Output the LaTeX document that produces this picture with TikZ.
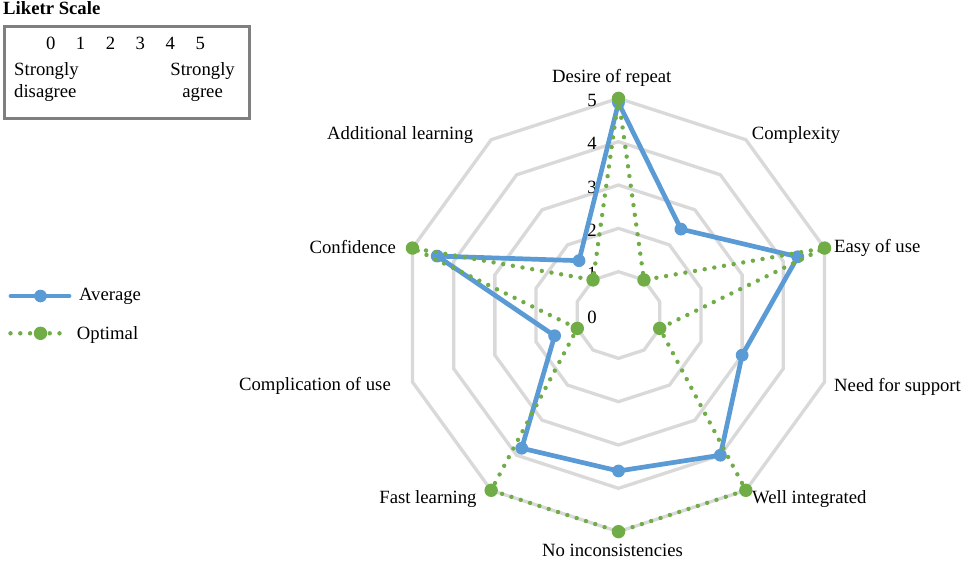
\documentclass[tikz,border=0pt]{standalone}
\usepackage{fontspec}
\setmainfont{Liberation Serif}
\usetikzlibrary{positioning}
\definecolor{avgblue}{HTML}{5B9BD5}
\definecolor{optgreen}{HTML}{70AD47}
\definecolor{ringgray}{HTML}{D9D9D9}
\definecolor{boxgray}{HTML}{7F7F7F}
\tikzset{
  ring/.style={draw=ringgray, line width=3.3pt},
  avgline/.style={draw=avgblue, line width=4.7pt, line join=round, line cap=round},
  optline/.style={draw=optgreen, line width=4.4pt, line cap=round, dash pattern=on 0pt off 9.8pt},
  lbl/.style={inner sep=0pt, font=\fontsize{18.7}{21.7}\selectfont},
}

\begin{document}
\begin{tikzpicture}[x=1pt, y=-1pt]
    \useasboundingbox[fill=white] (0,0) rectangle (964,563);

    % Likert scale box
    \node[lbl, anchor=west] (title) at (3,8.5) {\bfseries Liketr Scale};
    \node[draw=boxgray, line width=3pt, anchor=north west, inner sep=0pt, minimum width=244.7pt, minimum height=92pt] (scalebox) at (3.3,25) {};
    \foreach \n in {0,...,5}
        \node[lbl] (num-\n) at (50.7+\n*29.9, 43.8) {\n};
    \node[lbl, anchor=west, align=left] (disagree) at (14,81.7) {Strongly\\disagree};
    \node[lbl, align=center] (agree) at (202.6,81.7) {Strongly\\agree};

    % legend
    \draw[avgline] (11,296) -- ++(58,0) node[lbl, right=7.7pt] (avgkey) {Average};
    \fill[avgblue] (40.5,296) circle (6.3pt);
    \draw[optline] (10.5,333.3) -- ++(53,0) coordinate (optend);
    \node[lbl, anchor=west] (optkey) at (76.7,334.7) {Optimal};
    \fill[optgreen] (40.5,333.3) circle (6.7pt);

    % axis labels
    \foreach \txt/\anc/\px/\py [count=\i from 0] in {
        Desire of repeat/center/611.7/78, Complexity/west/751.7/135,
        Easy of use/west/834/248, Need for support/west/834/386.5,
        Well integrated/west/752/499, No inconsistencies/center/612.5/550.5,
        Fast learning/east/476.7/499, Complication of use/east/391/386,
        Confidence/east/396/246.7, Additional learning/east/473.3/135}
        \node[lbl, anchor=\anc] (axis-\i) at (\px,\py) {\txt};

    \begin{scope}[shift={(618.5,315)}]
        % rings
        \foreach \k in {1,...,5}
            \draw[ring] (-90:\k*43.33) \foreach \i in {1,...,9} {-- (\i*36-90:\k*43.33)} -- cycle;
        \foreach \v in {0,...,5}
            \node[lbl] (tick-\v) at (-26.5, -\v*43.33+2) {\v};

        % data
        \foreach \v [count=\i from 0] in {4.9,2.45,4.35,3,4,3.6,3.8,1.55,4.4,1.55}
            \coordinate (avg-\i) at (\i*36-90:\v*43.33);
        \foreach \v [count=\i from 0] in {5,1,5,1,5,5,5,1,5,1}
            \coordinate (opt-\i) at (\i*36-90:\v*43.33);

        \draw[avgline] (avg-0) \foreach \i in {1,...,9} {-- (avg-\i)} -- cycle;
        \foreach \i in {0,...,9}
            \fill[avgblue] (avg-\i) circle (6.4pt);
        \draw[optline] (opt-0) \foreach \i in {1,...,9} {-- (opt-\i)} -- cycle;
        \foreach \i in {0,...,9}
            \fill[optgreen] (opt-\i) circle (6.7pt);
    \end{scope}
\end{tikzpicture}
\end{document}
